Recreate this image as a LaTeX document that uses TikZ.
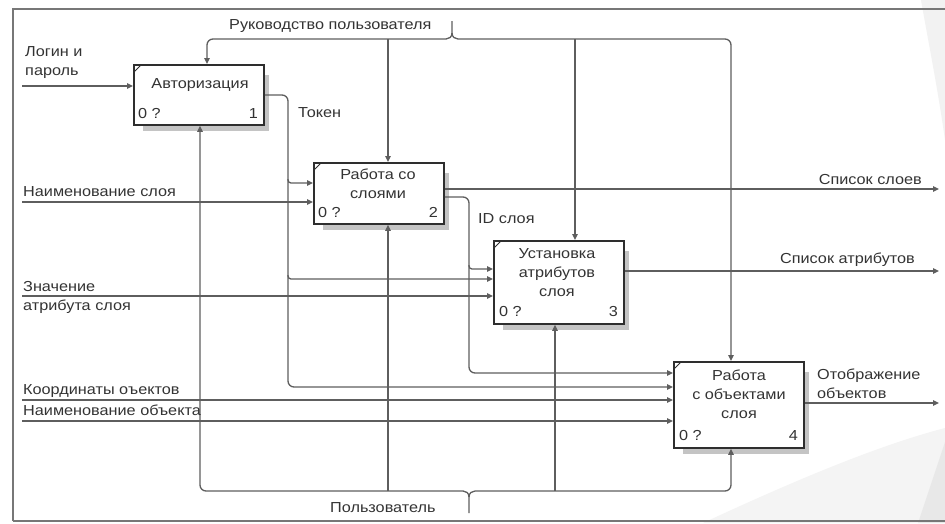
\documentclass[tikz,border=0pt]{standalone}
\usepackage{fontspec}
\setmainfont{Liberation Sans}[FakeStretch=1.12]
\usetikzlibrary{arrows.meta}
\definecolor{txtc}{HTML}{333333}
\definecolor{linec}{HTML}{5E5E5E}
\definecolor{boxc}{HTML}{2E2E2E}
\definecolor{shadowc}{HTML}{C4C4C4}
\definecolor{framec}{HTML}{777777}

\tikzset{
  lbl/.style={font=\fontsize{14.5}{19}\selectfont, text=txtc, inner sep=0pt},
  boxname/.style={lbl, align=center, anchor=base},
  procbox/.style={draw=boxc, line width=1.8pt, fill=white, anchor=north west, inner sep=0pt},
  boxshade/.style={fill=shadowc, draw=none},
  conn/.style={draw=linec, line width=1.3pt, rounded corners=6pt},
  arr/.style={conn, -{Triangle[length=6pt,width=5.5pt]}},
}

\begin{document}
\begin{tikzpicture}[x=1pt,y=-1pt]
\useasboundingbox (0,0) rectangle (945,523);
\fill[white] (0,0) rectangle (945,523);

% slide theme decoration on the right
\fill[gray!10] (921,0) .. controls (928,40) and (938,90) .. (945,140) -- (945,0) -- cycle;
\fill[gray!9] (703,523) .. controls (800,478) and (880,445) .. (945,428) -- (945,523) -- cycle;
\fill[gray!18] (918,523) -- (945,442) -- (945,523) -- cycle;

% frame
\draw[framec, line width=2.4pt] (13,521) -- (13,9) -- (945,9);
\draw[framec, line width=1.6pt] (13,521) -- (945,521);

% shadows
\fill[boxshade] (143,75) rectangle (269,131);
\fill[boxshade] (323,173) rectangle (449,230);
\fill[boxshade] (503,251) rectangle (629,330);
\fill[boxshade] (683,372) rectangle (809,454);

% activity boxes
\node[procbox, minimum width=130pt, minimum height=60pt] (b1) at (133,64) {};
\node[procbox, minimum width=130pt, minimum height=61pt] (b2) at (313,162) {};
\node[procbox, minimum width=130pt, minimum height=83pt] (b3) at (493,240) {};
\node[procbox, minimum width=130pt, minimum height=86pt] (b4) at (673,361) {};

% corner marks
\foreach \b in {b1,b2,b3,b4}{
  \draw[boxc, line width=0.8pt] ([xshift=1pt,yshift=-8pt]\b.north west) -- ([xshift=8pt,yshift=-1pt]\b.north west);
}

% box texts (base = baseline of the last line)
\node[boxname] (n1) at (200,88) {Авторизация};
\node[boxname] (n2) at (378,198) {Работа со\\слоями};
\node[boxname] (n3) at (557,296) {Установка\\атрибутов\\слоя};
\node[boxname] (n4) at (739,418) {Работа\\с объектами\\слоя};

\node[lbl, anchor=base west] (q1) at (138,118) {0 ?};
\node[lbl, anchor=base east] (k1) at (258,118) {1};
\node[lbl, anchor=base west] (q2) at (318,217) {0 ?};
\node[lbl, anchor=base east] (k2) at (438,217) {2};
\node[lbl, anchor=base west] (q3) at (499,316) {0 ?};
\node[lbl, anchor=base east] (k3) at (618,316) {3};
\node[lbl, anchor=base west] (q4) at (679,440) {0 ?};
\node[lbl, anchor=base east] (k4) at (798,440) {4};

% attachment points on the boxes
\coordinate (b1t) at ([xshift=74pt]b1.north west);
\coordinate (b1b) at ([xshift=67pt]b1.south west);
\coordinate (b1i) at ([yshift=-22pt]b1.north west);
\coordinate (b1o) at ([yshift=-31pt]b1.north east);

\coordinate (b2t) at ([xshift=75pt]b2.north west);
\coordinate (b2b) at ([xshift=75pt]b2.south west);
\coordinate (b2i1) at ([yshift=-21pt]b2.north west);
\coordinate (b2i2) at ([yshift=-40pt]b2.north west);
\coordinate (b2o1) at ([yshift=-27pt]b2.north east);
\coordinate (b2o2) at ([yshift=-35pt]b2.north east);

\coordinate (b3t) at ([xshift=82pt]b3.north west);
\coordinate (b3b) at ([xshift=62pt]b3.south west);
\coordinate (b3i1) at ([yshift=-29pt]b3.north west);
\coordinate (b3i2) at ([yshift=-39pt]b3.north west);
\coordinate (b3i3) at ([yshift=-56pt]b3.north west);
\coordinate (b3o) at ([yshift=-31pt]b3.north east);

\coordinate (b4t) at ([xshift=58pt]b4.north west);
\coordinate (b4b) at ([xshift=58pt]b4.south west);
\coordinate (b4i1) at ([yshift=-12pt]b4.north west);
\coordinate (b4i2) at ([yshift=-26pt]b4.north west);
\coordinate (b4i3) at ([yshift=-39pt]b4.north west);
\coordinate (b4i4) at ([yshift=-60pt]b4.north west);
\coordinate (b4o) at ([yshift=-42pt]b4.north east);

% borders of the sheet where arrows start and end
\coordinate (lft) at (22,0);
\coordinate (rgt) at (939,0);

% control: user manual
\coordinate (cL) at (446,39);
\coordinate (cR) at (458,39);
\coordinate (cS) at (452,33);
\coordinate (cT) at (452,21);
\draw[conn, rounded corners=0pt] (cT) -- (cS) .. controls (452,37) and (449,39) .. (cL);
\draw[conn, rounded corners=0pt] (cS) .. controls (452,37) and (455,39) .. (cR);
\draw[arr] (cL) -| (b1t);
\draw[arr] (cR) -| (b4t);
\draw[arr] (cL -| b2t) -- (b2t);
\draw[arr] (cR -| b3t) -- (b3t);
\node[lbl, anchor=base west] (lc) at (229,29) {Руководство пользователя};

% mechanism: user
\coordinate (mL) at (463,491);
\coordinate (mR) at (475,491);
\coordinate (mS) at (469,497);
\coordinate (mT) at (469,513);
\draw[conn, rounded corners=0pt] (mT) -- (mS) .. controls (469,493) and (466,491) .. (mL);
\draw[conn, rounded corners=0pt] (mS) .. controls (469,493) and (472,491) .. (mR);
\draw[arr] (mL) -| (b1b);
\draw[arr] (mR) -| (b4b);
\draw[arr] (mL -| b2b) -- (b2b);
\draw[arr] (mR -| b3b) -- (b3b);
\node[lbl, anchor=base west] (lm) at (330,512) {Пользователь};

% inputs from the left border
\draw[arr] (b1i -| lft) -- (b1i);
\node[lbl, anchor=base west, align=left] (li1) at (25,75) {Логин и\\пароль};
\draw[arr] (b2i2 -| lft) -- (b2i2);
\node[lbl, anchor=base west] (li2) at (23,196) {Наименование слоя};
\draw[arr] (b3i3 -| lft) -- (b3i3);
\node[lbl, anchor=base west, align=left] (li3) at (23,310) {Значение\\атрибута слоя};
\draw[arr] (b4i3 -| lft) -- (b4i3);
\node[lbl, anchor=base west] (li4) at (23,394) {Координаты оъектов};
\draw[arr] (b4i4 -| lft) -- (b4i4);
\node[lbl, anchor=base west] (li5) at (23,415) {Наименование объекта};

% token from box 1
\coordinate (tkx) at (288,95);
\draw[arr] (b1o) -- (tkx) |- (b4i2);
\draw[arr, rounded corners=3pt] (tkx |- b2i1) ++(0,-4) |- (b2i1);
\draw[arr, rounded corners=3pt] (tkx |- b3i2) ++(0,-4) |- (b3i2);
\node[lbl, anchor=base west] (lt) at (298,117) {Токен};

% layer id from box 2
\coordinate (idx) at (469,197);
\draw[arr] (b2o2) -- (idx) |- (b4i1);
\draw[arr, rounded corners=3pt] (idx |- b3i1) ++(0,-4) |- (b3i1);
\node[lbl, anchor=base west] (lid) at (478,223) {ID слоя};

% outputs to the right border
\draw[arr] (b2o1) -- (b2o1 -| rgt);
\node[lbl, anchor=base east] (lo1) at (922,184) {Список слоев};
\draw[arr] (b3o) -- (b3o -| rgt);
\node[lbl, anchor=base east] (lo2) at (915,263) {Список атрибутов};
\draw[arr] (b4o) -- (b4o -| rgt);
\node[lbl, anchor=base west, align=left] (lo3) at (817,398) {Отображение\\объектов};
\end{tikzpicture}
\end{document}
